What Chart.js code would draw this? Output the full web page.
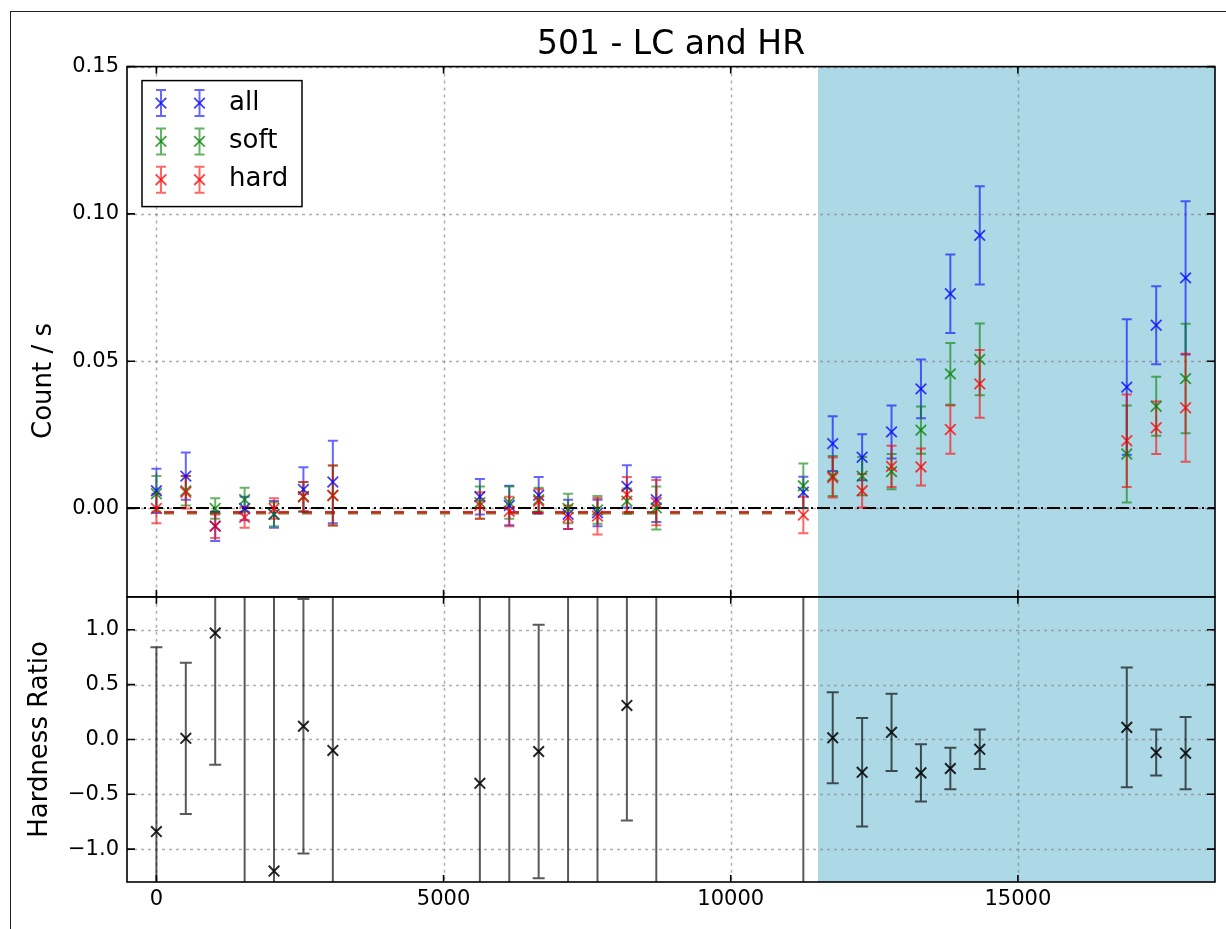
<!DOCTYPE html>
<html lang="en">
<head>
  <meta charset="UTF-8" />
  <title>501 - LC and HR</title>
  <script src="https://cdn.jsdelivr.net/npm/chart.js@4"></script>
  <style>
    html, body { margin: 0; padding: 0; background: #fff; overflow: hidden; }
    #frame { position: absolute; left: 10px; top: 11px; width: 1400px; height: 1100px;
             border-left: 1.5px solid #222; border-top: 1.5px solid #222; }
    #wrap { position: absolute; left: 0; top: 0; width: 1226px; height: 929px; }
  </style>
</head>
<body>
  <div id="frame"></div>
  <div id="wrap"><canvas id="lc" width="1226" height="929"></canvas></div>

  <script>
    // time bins (s)
    const times = [0, 512, 1024, 1536, 2048, 2560, 3072,
                   5632, 6144, 6656, 7168, 7680, 8192, 8704,
                   11264, 11776, 12288, 12800, 13312, 13824, 14336,
                   16896, 17408, 17920];

    // count rates + errors
    const allRate = [0.006, 0.011, -0.006, 0.000, -0.002, 0.0065, 0.009,
                     0.004, 0.001, 0.0045, -0.002, -0.0015, 0.0075, 0.003,
                     0.0055, 0.022, 0.0174, 0.026, 0.0406, 0.0729, 0.0927,
                     0.0412, 0.0622, 0.0783];
    const allErr = [0.0075, 0.008, 0.005, 0.004, 0.0045, 0.0075, 0.014,
                    0.006, 0.0067, 0.0062, 0.005, 0.0045, 0.0072, 0.0076,
                    0.0053, 0.0093, 0.0078, 0.009, 0.010, 0.0133, 0.0167,
                    0.023, 0.0132, 0.026];
    const softRate = [0.005, 0.006, 0.000, 0.003, -0.002, 0.004, 0.0044,
                      0.002, 0.002, 0.003, 0.000, -0.0005, 0.0025, 0.0002,
                      0.0077, 0.011, 0.011, 0.0125, 0.0266, 0.0457, 0.0506,
                      0.0185, 0.0347, 0.0441];
    const softErr = [0.006, 0.005, 0.0035, 0.004, 0.004, 0.005, 0.0102,
                     0.0055, 0.0055, 0.004, 0.005, 0.0047, 0.0043, 0.0073,
                     0.0076, 0.0068, 0.0065, 0.006, 0.008, 0.0105, 0.0122,
                     0.0165, 0.010, 0.0186];
    const hardRate = [0.000, 0.0055, -0.006, -0.003, 0.000, 0.004, 0.0044,
                      0.001, -0.001, 0.0025, -0.003, -0.0026, 0.0047, 0.002,
                      -0.0022, 0.0105, 0.006, 0.0143, 0.0141, 0.0268, 0.0423,
                      0.023, 0.0274, 0.0342];
    const hardErr = [0.005, 0.0055, 0.004, 0.0035, 0.0035, 0.005, 0.0102,
                     0.0045, 0.005, 0.004, 0.004, 0.0062, 0.006, 0.0077,
                     0.0062, 0.0068, 0.0057, 0.007, 0.0063, 0.0082, 0.0115,
                     0.0157, 0.0089, 0.0183];

    // hardness ratio (some fall off the plotted range)
    const hrVal = [-0.84, 0.01, 0.97, 3.0, -1.2, 0.12, -0.10,
                   -0.40, -3.0, -0.11, 3.0, -3.0, 0.31, 3.0,
                   3.0, 0.015, -0.30, 0.065, -0.305, -0.265, -0.09,
                   0.11, -0.12, -0.125];
    const hrErr = [1.68, 0.69, 1.2, 5, 2.6, 1.16, 1.5,
                   1.8, 5, 1.155, 5, 5, 1.05, 5,
                   5, 0.415, 0.495, 0.352, 0.26, 0.19, 0.18,
                   0.546, 0.21, 0.33];

    const xTicks = [0, 5000, 10000, 15000];
    const rateTicks = [0, 0.05, 0.10, 0.15];
    const hrTicks = [-1.0, -0.5, 0.0, 0.5, 1.0];
    const xRange = [-512, 18432];
    const rateRange = [-0.03, 0.15];
    const hrRange = [-1.3, 1.3];
    const activeSpan = [11520, 18432];
    const bkgSpan = [0, 11264];
    const bkgLevel = -0.0011;

    const series = [
      { label: 'all',  rate: allRate,  err: allErr,  rgb: '0,0,255' },
      { label: 'soft', rate: softRate, err: softErr, rgb: '0,128,0' },
      { label: 'hard', rate: hardRate, err: hardErr, rgb: '255,0,0' },
    ];

    const FONT = 'DejaVu Sans';

    const pts = (ys, lo, hi) => times.map((t, i) => ({
      x: t, y: (ys[i] < lo || ys[i] > hi) ? null : ys[i]
    }));

    const datasets = series.map((s, k) => ({
      label: s.label,
      data: pts(s.rate, rateRange[0], rateRange[1]),
      yAxisID: 'y',
      order: 3 - k,
      vals: s.rate, errs: s.err,
      barColor: `rgba(${s.rgb},0.6)`,
      pointStyle: 'crossRot',
      pointRadius: 7.5,
      pointBorderWidth: 1.8,
      pointBorderColor: `rgba(${s.rgb},0.75)`,
      pointBackgroundColor: 'transparent',
      showLine: false,
    }));
    datasets.push({
      label: 'HR',
      data: pts(hrVal, hrRange[0], hrRange[1]),
      yAxisID: 'y2',
      order: 0,
      vals: hrVal, errs: hrErr,
      barColor: 'rgba(0,0,0,0.65)',
      pointStyle: 'crossRot',
      pointRadius: 7.5,
      pointBorderWidth: 2,
      pointBorderColor: 'rgba(0,0,0,0.85)',
      pointBackgroundColor: 'transparent',
      showLine: false,
    });

    const panels = (chart) => [chart.scales.y, chart.scales.y2];

    // shade + grid + zero lines, under everything
    const backdrop = {
      id: 'backdrop',
      beforeDraw(chart) {
        const { ctx, chartArea: a } = chart;
        const x = chart.scales.x;
        ctx.save();
        ctx.fillStyle = '#add8e6';
        const s0 = x.getPixelForValue(activeSpan[0]);
        const s1 = x.getPixelForValue(activeSpan[1]);
        ctx.fillRect(s0, a.top, s1 - s0, a.bottom - a.top);

        ctx.strokeStyle = 'rgba(120,120,120,0.6)';
        ctx.lineWidth = 1.5;
        ctx.setLineDash([3, 4]);
        panels(chart).forEach((y, p) => {
          const ticks = p === 0 ? rateTicks : hrTicks;
          xTicks.forEach(v => {
            const px = Math.round(x.getPixelForValue(v)) + 0.5;
            ctx.beginPath(); ctx.moveTo(px, y.top); ctx.lineTo(px, y.bottom); ctx.stroke();
          });
          ticks.forEach(v => {
            const py = Math.round(y.getPixelForValue(v)) + 0.5;
            ctx.beginPath(); ctx.moveTo(x.left, py); ctx.lineTo(x.right, py); ctx.stroke();
          });
        });

        // background level (soft/hard) dashes sitting in the gaps of the zero line
        const y = chart.scales.y;
        const b0 = x.getPixelForValue(bkgSpan[0]);
        const b1 = x.getPixelForValue(bkgSpan[1]);
        const period = 23;
        const phase = (b0 - x.left) % period;
        const d = (14 - phase + period) % period;
        ctx.lineWidth = 2;
        [['rgba(110,90,20,0.85)', 1.5], ['rgba(230,0,0,0.85)', 0]].forEach(([c, dy]) => {
          ctx.strokeStyle = c;
          ctx.setLineDash([10, 13]);
          ctx.lineDashOffset = period - d;
          const py = Math.round(y.getPixelForValue(bkgLevel)) + dy;
          ctx.beginPath(); ctx.moveTo(b0, py); ctx.lineTo(b1, py); ctx.stroke();
        });
        ctx.lineDashOffset = 0;
        ctx.strokeStyle = '#000';
        ctx.lineWidth = 2;
        ctx.setLineDash([13, 4, 2, 4]);
        const z = Math.round(y.getPixelForValue(0));
        ctx.beginPath(); ctx.moveTo(x.left, z); ctx.lineTo(x.right, z); ctx.stroke();
        ctx.restore();
      }
    };

    const errorBars = {
      id: 'errorBars',
      beforeDatasetsDraw(chart) {
        const { ctx } = chart;
        const x = chart.scales.x;
        chart.data.datasets.forEach(ds => {
          const y = chart.scales[ds.yAxisID];
          const cap = ds.yAxisID === 'y2' ? 6 : 5;
          ctx.save();
          ctx.beginPath();
          ctx.rect(x.left, y.top, x.right - x.left, y.bottom - y.top);
          ctx.clip();
          ctx.strokeStyle = ds.barColor;
          ctx.lineWidth = 2;
          ds.vals.forEach((v, i) => {
            const px = x.getPixelForValue(times[i]);
            const t = y.getPixelForValue(v + ds.errs[i]);
            const b = y.getPixelForValue(v - ds.errs[i]);
            ctx.beginPath();
            ctx.moveTo(px, t); ctx.lineTo(px, b);
            ctx.moveTo(px - cap, t); ctx.lineTo(px + cap, t);
            ctx.moveTo(px - cap, b); ctx.lineTo(px + cap, b);
            ctx.stroke();
          });
          ctx.restore();
        });
      }
    };

    // frames, inward ticks, legend, top y label
    const overlay = {
      id: 'overlay',
      afterDraw(chart) {
        const { ctx } = chart;
        const x = chart.scales.x;
        ctx.save();
        ctx.strokeStyle = '#000';
        ctx.lineWidth = 1.6;
        panels(chart).forEach((y, p) => {
          ctx.strokeRect(x.left, y.top, x.right - x.left, y.bottom - y.top);
          const ticks = p === 0 ? rateTicks : hrTicks;
          ctx.beginPath();
          xTicks.forEach(v => {
            const px = x.getPixelForValue(v);
            ctx.moveTo(px, y.top); ctx.lineTo(px, y.top + 7);
            ctx.moveTo(px, y.bottom); ctx.lineTo(px, y.bottom - 7);
          });
          ticks.forEach(v => {
            const py = y.getPixelForValue(v);
            ctx.moveTo(x.left, py); ctx.lineTo(x.left + 8, py);
            ctx.moveTo(x.right, py); ctx.lineTo(x.right - 8, py);
          });
          ctx.stroke();
        });

        // y label of the top panel
        ctx.fillStyle = '#000';
        ctx.font = `26px "${FONT}"`;
        ctx.textAlign = 'center';
        ctx.textBaseline = 'middle';
        ctx.save();
        ctx.translate(44, 381);
        ctx.rotate(-Math.PI / 2);
        ctx.fillText('Count / s', 0, 0);
        ctx.restore();

        // legend
        const lx = x.left + 15, ly = chart.scales.y.top + 14;
        ctx.fillStyle = '#fff';
        ctx.fillRect(lx, ly, 160, 126);
        ctx.lineWidth = 1.5;
        ctx.strokeRect(lx, ly, 160, 126);
        series.forEach((s, k) => {
          const cy = ly + 22.5 + k * 38.3;
          [lx + 19, lx + 57.5].forEach(cx => {
            ctx.strokeStyle = `rgba(${s.rgb},0.6)`;
            ctx.lineWidth = 2;
            ctx.beginPath();
            ctx.moveTo(cx, cy - 13); ctx.lineTo(cx, cy + 13);
            ctx.moveTo(cx - 5, cy - 13); ctx.lineTo(cx + 5, cy - 13);
            ctx.moveTo(cx - 5, cy + 13); ctx.lineTo(cx + 5, cy + 13);
            ctx.stroke();
            ctx.strokeStyle = `rgba(${s.rgb},0.75)`;
            ctx.lineWidth = 1.8;
            ctx.beginPath();
            ctx.moveTo(cx - 5.3, cy - 5.3); ctx.lineTo(cx + 5.3, cy + 5.3);
            ctx.moveTo(cx - 5.3, cy + 5.3); ctx.lineTo(cx + 5.3, cy - 5.3);
            ctx.stroke();
          });
          ctx.fillStyle = '#000';
          ctx.textAlign = 'left';
          ctx.font = `26px "${FONT}"`;
          ctx.fillText(s.label, lx + 87, cy);
        });
        ctx.restore();
      }
    };

    const setTicks = (list) => (scale) => { scale.ticks = list.map(v => ({ value: v })); };
    const tickFont = { family: FONT, size: 21 };

    new Chart(document.getElementById('lc'), {
      type: 'scatter',
      data: { datasets },
      plugins: [backdrop, errorBars, overlay],
      options: {
        responsive: false,
        animation: false,
        layout: { padding: { top: 8, right: 11, left: 0, bottom: 0 } },
        plugins: {
          legend: { display: false },
          tooltip: { enabled: false },
          title: {
            display: true,
            text: '501 - LC and HR',
            fullSize: false,
            color: '#000',
            font: { family: FONT, size: 33, weight: 'normal' },
            padding: { top: 18, bottom: 1 }
          }
        },
        scales: {
          x: {
            type: 'linear',
            min: xRange[0], max: xRange[1],
            afterBuildTicks: setTicks(xTicks),
            afterFit: (s) => { s.height = 47; },
            grid: { display: false, drawTicks: false },
            border: { display: false },
            ticks: { font: tickFont, color: '#000', padding: 5, maxRotation: 0,
                     callback: (v) => String(v) }
          },
          y: {
            type: 'linear',
            position: 'left',
            stack: 'panels', stackWeight: 530, weight: 1,
            min: rateRange[0], max: rateRange[1],
            afterBuildTicks: setTicks(rateTicks),
            afterFit: (s) => { s.width = 127; },
            grid: { display: false, drawTicks: false },
            border: { display: false },
            ticks: { font: tickFont, color: '#000', padding: 8,
                     callback: (v) => v.toFixed(2) }
          },
          y2: {
            type: 'linear',
            position: 'left',
            stack: 'panels', stackWeight: 285, weight: 0,
            min: hrRange[0], max: hrRange[1],
            afterBuildTicks: setTicks(hrTicks),
            afterFit: (s) => { s.width = 127; },
            grid: { display: false, drawTicks: false },
            border: { display: false },
            title: { display: true, text: 'Hardness Ratio', color: '#000',
                     font: { family: FONT, size: 26 }, padding: { top: 25, bottom: 0 } },
            ticks: { font: tickFont, color: '#000', padding: 8,
                     callback: (v) => v.toFixed(1).replace('-', '\u2212') }
          }
        }
      }
    });
  </script>
</body>
</html>
